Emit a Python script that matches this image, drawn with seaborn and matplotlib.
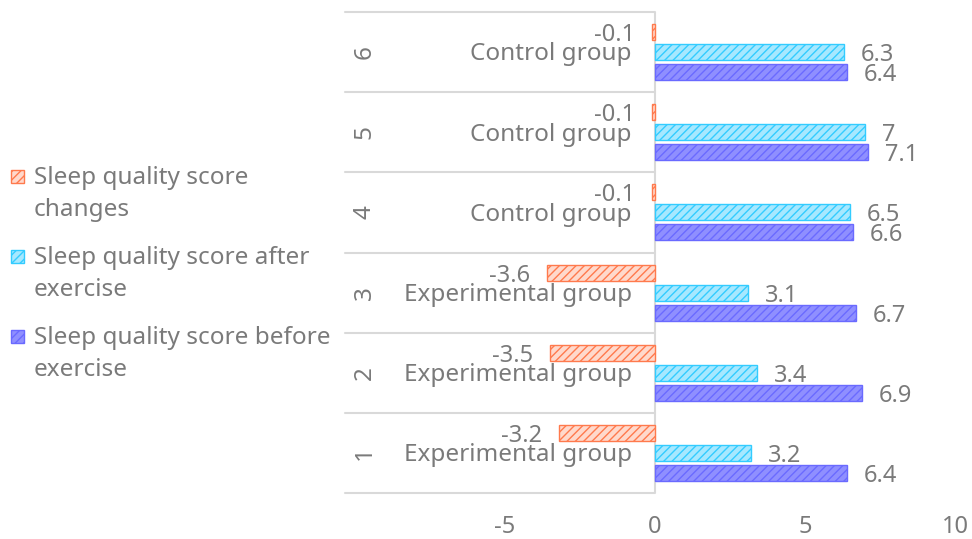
import matplotlib
matplotlib.use("Agg")
import matplotlib.pyplot as plt
from matplotlib.patches import Rectangle
import seaborn as sns
import pandas as pd

# ---- data ----
categories = ["1", "2", "3", "4", "5", "6"]
groups = ["Experimental group", "Experimental group", "Experimental group",
          "Control group", "Control group", "Control group"]
series_names = ["Sleep quality score changes",
                "Sleep quality score after exercise",
                "Sleep quality score before exercise"]
legend_labels = ["Sleep quality score\nchanges",
                 "Sleep quality score after\nexercise",
                 "Sleep quality score before\nexercise"]
changes = [-3.2, -3.5, -3.6, -0.1, -0.1, -0.1]
after = [3.2, 3.4, 3.1, 6.5, 7.0, 6.3]
before = [6.4, 6.9, 6.7, 6.6, 7.1, 6.4]
x_ticks = [-5, 0, 5, 10]

edge_colors = ["#FF7A4D", "#33CCFF", "#6A6AFF"]
face_colors = ["#FFD9CC", "#A6E8FF", "#8F8FFF"]
text_color = "#7A7A7A"

rows = []
for name, vals in zip(series_names, [changes, after, before]):
    for c, v in zip(categories, vals):
        rows.append({"cat": c, "series": name, "value": v})
df = pd.DataFrame(rows)

sns.set_theme(style="white")
plt.rcParams["font.family"] = ["Noto Sans", "DejaVu Sans"]

FS = 17.5
NS = 17

fig = plt.figure(figsize=(9.72, 5.39), dpi=100)
ax = fig.add_axes([345 / 972, 1 - 493 / 539, (970 - 345) / 972, (493 - 12) / 539])

order = categories[::-1]
sns.barplot(data=df, y="cat", x="value", hue="series", order=order,
            hue_order=series_names, orient="h", width=0.75, gap=0.2,
            ax=ax, legend=False, linewidth=1.2)

for cont, fc, ec in zip(ax.containers, face_colors, edge_colors):
    for bar in cont:
        bar.set_facecolor(fc)
        bar.set_edgecolor(ec)
        bar.set_hatch("////")
        bar.set_linewidth(1.0)
    vals = [b.get_width() for b in cont]
    texts = ax.bar_label(cont, labels=[f"{v:g}" for v in vals], padding=12,
                         fontsize=NS, color=text_color)
    for t in texts:
        t.set_va("center_baseline")

xmin, xmax = -10.33, 10.5
ax.set_xlim(xmin, xmax)
ax.set_ylim(5.5, -0.5)
ax.set_xticks(x_ticks)
ax.set_xticklabels([str(t) for t in x_ticks], fontsize=NS, color=text_color)
ax.tick_params(axis="x", length=0, pad=16)
ax.set_yticks([])
ax.set_xlabel("")
ax.set_ylabel("")
for s in ax.spines.values():
    s.set_visible(False)

# category boxes
line_c = "#D9D9D9"
for b in [i - 0.5 for i in range(7)]:
    ax.plot([xmin, 0], [b, b], color=line_c, lw=1.5, zorder=0, clip_on=False)
ax.plot([0, 0], [-0.5, 5.5], color=line_c, lw=1.5, zorder=0.5)

for i, c in enumerate(order):
    g = groups[categories.index(c)]
    ax.text(-0.77, i + 0.03, g, ha="right", va="center", fontsize=FS,
            color=text_color)
    ax.text(-9.67, i, c, ha="center", va="center", fontsize=FS,
            color=text_color, rotation=90)

# legend (manual, marker aligned with first line)
leg_y = [176, 256, 336]
for lab, fc, ec, yy in zip(legend_labels, face_colors, edge_colors, leg_y):
    fy = 1 - yy / 539
    fig.patches.append(Rectangle((11 / 972, fy - 6.5 / 539), 13 / 972, 13 / 539,
                                 transform=fig.transFigure, facecolor=fc,
                                 edgecolor=ec, hatch="////", lw=1.0))
    fig.text(34 / 972, 1 - (yy - 10) / 539, lab, ha="left", va="top",
             fontsize=FS, color=text_color, linespacing=1.45,
             transform=fig.transFigure)

fig.savefig("out.png", dpi=100)
